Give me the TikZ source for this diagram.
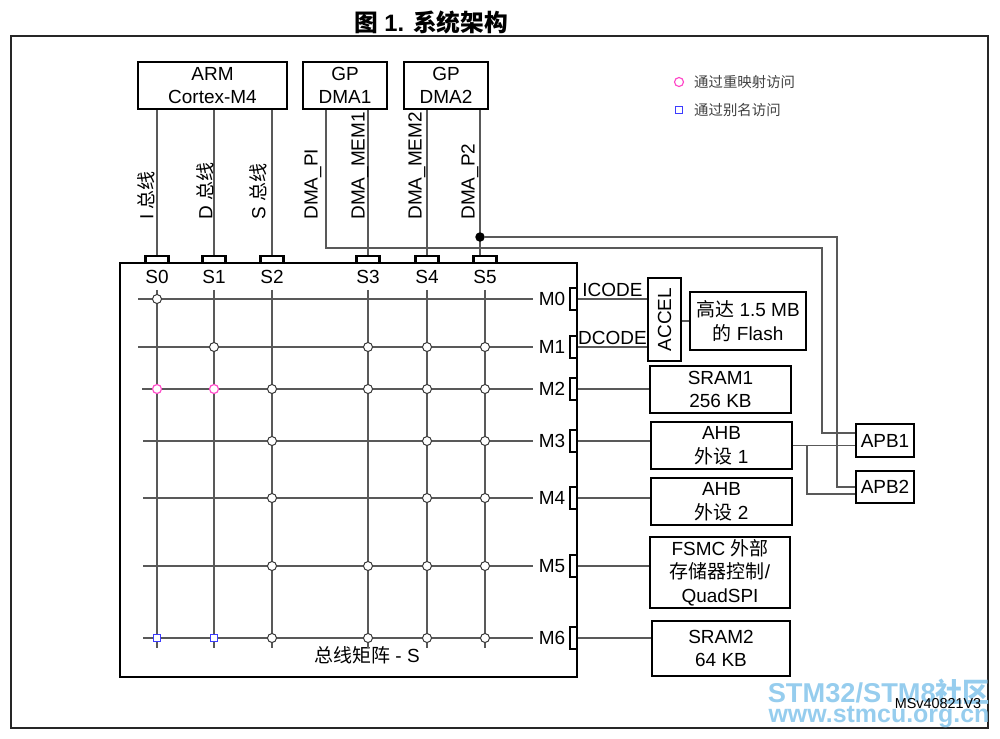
\documentclass[tikz,border=0pt]{standalone}
\usepackage{fontspec}
\usepackage{graphicx}
\setmainfont{Liberation Sans}
\newfontfamily\cjk{Noto Sans CJK SC}
\definecolor{remapc}{RGB}{255,70,200}
\definecolor{aliasc}{RGB}{60,60,255}
\definecolor{wmblue}{RGB}{150,205,238}
\tikzset{
  blk/.style={draw=black, line width=1.15pt, fill=white, align=center, inner sep=0pt},
  port/.style={draw=black, line width=1.15pt, fill=white, inner sep=0pt},
  bus/.style={draw=black!65, line width=0.6pt},
  xing/.style={circle, draw=black!80, fill=white, line width=0.55pt, minimum size=0.18cm, inner sep=0pt},
  remap/.style={xing, draw=remapc, line width=0.65pt},
  alias/.style={rectangle, draw=aliasc, fill=white, line width=0.65pt, minimum size=0.14cm, inner sep=0pt},
  small/.style={font=\fontsize{8.2}{10}\selectfont},
}
\begin{document}
\begin{tikzpicture}[x=0.02cm, y=-0.02cm, font=\fontsize{10.8}{13.4}\selectfont]
\useasboundingbox (0,0) rectangle (1000,738);
% title and frame
\node (title) at (431,22) {\fontsize{13.5}{16}\selectfont\bfseries{\cjk 图} 1. {\cjk 系统架构}};
\draw[line width=0.8pt, black!85] (11,36) rectangle (988,728);
% watermark
\node[font=\fontsize{15.5}{18}\selectfont\bfseries, text=wmblue] (wm1) at (879,692) {STM32/STM8{\cjk 社区}};
\node[font=\fontsize{14.2}{17}\selectfont\bfseries, text=wmblue] (wm2) at (879,717) {www.stmcu.org.cn};
% masters
\node[blk, minimum width=2.98cm, minimum height=0.94cm] (arm) at (212.5,85.5) {ARM\\Cortex-M4};
\node[blk, minimum width=1.68cm, minimum height=0.94cm] (dma1) at (345,85.5) {GP\\DMA1};
\node[blk, minimum width=1.68cm, minimum height=0.94cm] (dma2) at (446,85.5) {GP\\DMA2};
% bus matrix
\node[draw, line width=1.45pt, minimum width=9.14cm, minimum height=8.28cm, inner sep=0pt] (bm) at (348.5,470) {};
\node (bmname) at (367,655) {{\cjk 总线矩阵} - S};
% slave columns
\foreach \n/\x in {0/157,1/214,2/272,3/368,4/427,5/485}{
  \node[port, minimum width=0.46cm, minimum height=0.14cm] (s\n) at (\x,259.5) {};
  \node (ls\n) at (\x,277) {S\n};
  \draw[bus] (ls\n.south) -- (\x,648);
}
% master rows
\foreach \n/\y/\xa in {0/299/138,1/347/138,2/389/142,3/441/143,4/498/143,5/566/143,6/638/143}{
  \node (lm\n) at (552,\y) {M\n};
  \draw[bus] (\xa,\y) -- (lm\n.west);
  \node[port, minimum width=0.14cm, minimum height=0.44cm] (m\n) at (573.5,\y) {};
}
% crossings
\foreach \c/\r in {0/0,1/1,3/1,4/1,5/1,2/2,3/2,4/2,5/2,2/3,4/3,5/3,2/4,4/4,5/4,
                   2/5,3/5,4/5,5/5,2/6,3/6,4/6,5/6}
  \node[xing] (x\c\r) at (ls\c |- lm\r) {};
\node[remap] (x02) at (ls0 |- lm2) {};
\node[remap] (x12) at (ls1 |- lm2) {};
\node[alias] (x06) at (ls0 |- lm6) {};
\node[alias] (x16) at (ls1 |- lm6) {};
% master buses
\draw[bus] (s0.north) -- (s0 |- arm.south);
\draw[bus] (s1.north) -- (s1 |- arm.south);
\draw[bus] (s2.north) -- (s2 |- arm.south);
\draw[bus] (s3.north) -- (s3 |- dma1.south);
\draw[bus] (s4.north) -- (s4 |- dma2.south);
\coordinate (p2) at (480,237);
\draw[bus] (p2 |- dma2.south) -- (p2 |- s5.north);
\node[circle, fill=black, minimum size=0.19cm, inner sep=0pt] (dot) at (p2) {};
\node[rotate=90, anchor=west, inner sep=0pt] (lbi) at (146,220) {I {\cjk 总线}};
\node[rotate=90, anchor=west, inner sep=0pt] (lbd) at (205,220) {D {\cjk 总线}};
\node[rotate=90, anchor=west, inner sep=0pt] (lbs) at (258,220) {S {\cjk 总线}};
\node[rotate=90, anchor=west, inner sep=0pt] (lbpi) at (313,220) {DMA\_PI};
\node[rotate=90, anchor=west, inner sep=0pt] (lbm1) at (360,220) {DMA\_MEM1};
\node[rotate=90, anchor=west, inner sep=0pt] (lbm2) at (417,220) {DMA\_MEM2};
\node[rotate=90, anchor=west, inner sep=0pt] (lbp2) at (470,220) {DMA\_P2};
% slaves
\node[blk, minimum width=0.66cm, minimum height=1.66cm] (accel) at (664.5,319.5) {\rotatebox{90}{ACCEL}};
\node[blk, minimum width=2.32cm, minimum height=1.16cm] (flash) at (748,321) {{\cjk 高达} 1.5 MB\\{\cjk 的} Flash};
\node[blk, minimum width=2.82cm, minimum height=0.94cm] (sram1) at (720.5,389.5) {SRAM1\\256 KB};
\node[blk, minimum width=2.82cm, minimum height=0.94cm] (ahb1) at (721.5,445.5) {AHB\\{\cjk 外设} 1};
\node[blk, minimum width=2.82cm, minimum height=0.94cm] (ahb2) at (721.5,501.5) {AHB\\{\cjk 外设} 2};
\node[blk, minimum width=2.8cm, minimum height=1.42cm] (fsmc) at (720,572.5) {FSMC {\cjk 外部}\\{\cjk 存储器控制}/\\QuadSPI};
\node[blk, minimum width=2.76cm, minimum height=1.1cm] (sram2) at (721,648.5) {SRAM2\\64 KB};
\node[blk, minimum width=1.16cm, minimum height=0.66cm] (apb1) at (885,440.5) {APB1};
\node[blk, minimum width=1.16cm, minimum height=0.64cm] (apb2) at (885,487) {APB2};
% matrix to slaves
\draw[bus] (m0.east) -- (m0.east -| accel.west) node[midway, above, inner sep=1pt] (icode) {ICODE};
\draw[bus] (m1.east) -- (m1.east -| accel.west) node[midway, above, inner sep=1pt] (dcode) {DCODE};
\draw[bus] (accel.east |- flash.west) -- (flash.west);
\draw[bus] (m2.east) -- (m2.east -| sram1.west);
\draw[bus] (m3.east) -- (m3.east -| ahb1.west);
\draw[bus] (m4.east) -- (m4.east -| ahb2.west);
\draw[bus] (m5.east) -- (m5.east -| fsmc.west);
\draw[bus] (m6.east) -- (m6.east -| sram2.west);
% APB bridges
\coordinate (pi) at (326,248);
\coordinate (k1) at (822,433);
\coordinate (k2) at (837,487);
\coordinate (k3) at (807,494);
\draw[bus] (pi |- dma1.south) -- (pi) -- (k1 |- pi) -- (k1) -- (k1 -| apb1.west);
\draw[bus] (dot) -- (k2 |- dot) -- (k2) -- (k2 -| apb2.west);
\draw[bus] (ahb1.east) -- (ahb1.east -| apb1.west);
\draw[bus] (ahb1.east -| k3) |- (k3 -| apb2.west);
% legend
\node[remap, minimum size=0.18cm] (keyremap) at (679,82) {};
\node[small, anchor=west, text=black!75] (txtremap) at (688,82) {\cjk 通过重映射访问};
\node[alias, minimum size=0.15cm] (keyalias) at (679,110) {};
\node[small, anchor=west, text=black!75] (txtalias) at (688,110) {\cjk 通过别名访问};
\node[small] (msv) at (938,704) {MSv40821V3};
\end{tikzpicture}
\end{document}
